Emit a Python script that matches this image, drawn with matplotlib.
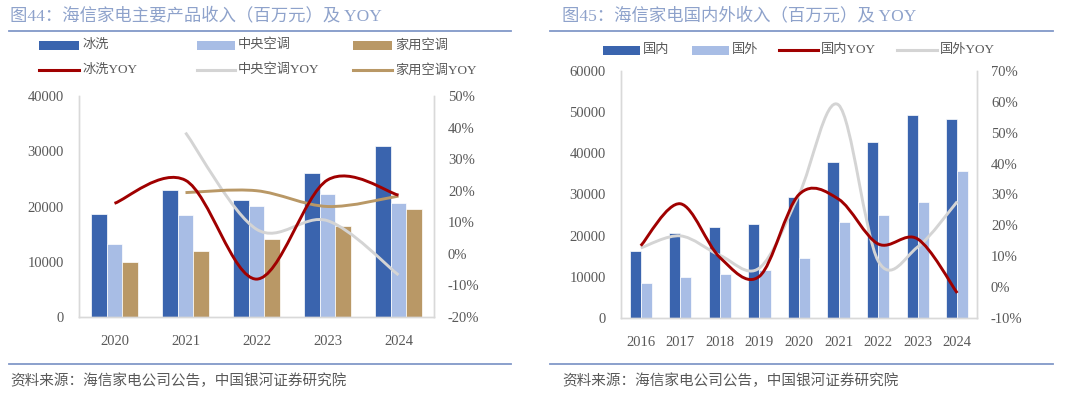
import matplotlib
matplotlib.use("Agg")
import matplotlib.pyplot as plt
from matplotlib.path import Path
from matplotlib.patches import PathPatch, Rectangle
from matplotlib.lines import Line2D
from matplotlib.ticker import FuncFormatter, MultipleLocator
import numpy as np

plt.rcParams['font.family'] = ['Liberation Serif', 'Noto Sans CJK SC']

# ── Data — 图44 ───────────────────────────────────────────────────────────────
years_l = ['2020', '2021', '2022', '2023', '2024']
bingxi = [18600, 23000, 21200, 26000, 30900]
zhongyang = [13300, 18400, 20100, 22200, 20700]
jiayong = [10000, 11900, 14200, 16500, 19500]
bingxi_yoy = [16.0, 23.3, -8.0, 23.4, 18.6]
zhongyang_yoy = [np.nan, 38.4, 7.8, 10.5, -6.7]
jiayong_yoy = [np.nan, 19.4, 20.0, 15.0, 18.3]

# ── Data — 图45 ───────────────────────────────────────────────────────────────
years_r = ['2016', '2017', '2018', '2019', '2020', '2021', '2022', '2023', '2024']
guonei = [16300, 20600, 22100, 22800, 29400, 37800, 42800, 49300, 48300]
guowai = [8500, 9900, 10800, 11600, 14600, 23200, 25100, 28100, 35800]
guonei_yoy = [13.4, 27.0, 9.6, 3.5, 30.0, 28.5, 14.0, 15.6, -1.9]
guowai_yoy = [12.7, 16.6, 10.3, 6.2, 30.0, 59.0, 8.5, 13.0, 27.7]

# Colors
DARK_BLUE = "#3A64AE"
LIGHT_BLUE = "#A8BDE5"
TAN = "#B99866"
RED = "#A00000"
GRAY = "#D4D4D4"
TITLE_C = "#8EA2CB"
RULE_C = "#8198C8"
TEXT_C = "#595959"
AXIS_C = "#D9D9D9"

W, H = 1080, 396


def fx(px):
    return px / W


def fy(py):
    return 1 - py / H


def smooth_path(xs, ys):
    """Excel-style smoothed line: cubic bezier through the points."""
    pts = np.column_stack([xs, ys]).astype(float)
    pts = pts[~np.isnan(pts[:, 1])]
    n = len(pts)
    verts, codes = [pts[0]], [Path.MOVETO]
    for i in range(n - 1):
        p0 = pts[max(i - 1, 0)]
        p1, p2 = pts[i], pts[i + 1]
        p3 = pts[min(i + 2, n - 1)]
        verts += [p1 + (p2 - p0) / 6, p2 - (p3 - p1) / 6, p2]
        codes += [Path.CURVE4] * 3
    return Path(verts, codes)


def style_axes(ax, ax2, ylim, y2lim, ystep, y2step, ncat, labels):
    ax.set_xlim(-0.5, ncat - 0.5)
    ax.set_ylim(*ylim)
    ax2.set_ylim(*y2lim)
    ax.set_xticks(np.arange(ncat))
    ax.set_xticklabels(labels)
    ax.yaxis.set_major_locator(MultipleLocator(ystep))
    ax2.yaxis.set_major_locator(MultipleLocator(y2step))
    ax.yaxis.set_major_formatter(FuncFormatter(lambda v, p: f"{v:.0f}"))
    ax2.yaxis.set_major_formatter(FuncFormatter(lambda v, p: f"{v:.0f}%"))
    ax.tick_params(axis='y', length=0, pad=11, labelsize=10.5, labelcolor=TEXT_C)
    ax.tick_params(axis='x', length=0, pad=13, labelsize=10.5, labelcolor=TEXT_C)
    ax2.tick_params(axis='y', length=0, pad=10, labelsize=10.5, labelcolor=TEXT_C)
    for a in (ax, ax2):
        a.spines['top'].set_visible(False)
        for s in ('left', 'right', 'bottom'):
            a.spines[s].set_color(AXIS_C)
            a.spines[s].set_linewidth(1.0)
        a.patch.set_visible(False)


def legend_item(fig, x0, x1, y, label, color, kind):
    if kind == 'bar':
        fig.add_artist(Rectangle((fx(x0), fy(y + 4.5)), fx(x1 - x0), 9 / H,
                                 transform=fig.transFigure, color=color, lw=0))
    else:
        fig.add_artist(Line2D([fx(x0), fx(x1)], [fy(y), fy(y)],
                              transform=fig.transFigure, color=color, lw=2.2))
    fig.text(fx(x1 + 3), fy(y), label, ha='left', va='center',
             fontsize=9.5, color=TEXT_C)


def frame(fig, x0, x1, xt, title):
    fig.text(fx(xt), fy(16), title, ha='left', va='center',
             fontsize=12.5, color=TITLE_C)
    for yy in (31, 363.5):
        fig.add_artist(Line2D([fx(x0), fx(x1)], [fy(yy), fy(yy)],
                              transform=fig.transFigure, color=RULE_C, lw=1.3))
    fig.text(fx(xt), fy(381), "资料来源：海信家电公司公告，中国银河证券研究院",
             ha='left', va='center', fontsize=10.5, color=TEXT_C, style='italic')


fig = plt.figure(figsize=(W / 100, H / 100), dpi=100)
fig.patch.set_facecolor("white")

# ── 图44 ──────────────────────────────────────────────────────────────────────
axL = fig.add_axes([fx(79), fy(317), fx(434 - 79), (317 - 96) / H])
axL2 = axL.twinx()
xl = np.arange(len(years_l))
bw = 0.22
axL.bar(xl - bw, bingxi, bw, color=DARK_BLUE, edgecolor='white', linewidth=0.5, zorder=2)
axL.bar(xl, zhongyang, bw, color=LIGHT_BLUE, edgecolor='white', linewidth=0.5, zorder=2)
axL.bar(xl + bw, jiayong, bw, color=TAN, edgecolor='white', linewidth=0.5, zorder=2)
for vals, col in ((zhongyang_yoy, GRAY), (jiayong_yoy, TAN), (bingxi_yoy, RED)):
    axL2.add_patch(PathPatch(smooth_path(xl, vals), fill=False, edgecolor=col,
                             lw=2.1, capstyle='butt', zorder=3))
style_axes(axL, axL2, (0, 40000), (-20, 50), 10000, 10, len(years_l), years_l)

frame(fig, 9, 511, 10, "图44：海信家电主要产品收入（百万元）及 YOY")
legend_item(fig, 39, 79, 45, "冰洗", DARK_BLUE, 'bar')
legend_item(fig, 197, 235, 45, "中央空调", LIGHT_BLUE, 'bar')
legend_item(fig, 353, 392, 45, "家用空调", TAN, 'bar')
legend_item(fig, 39, 79, 70, "冰洗YOY", RED, 'line')
legend_item(fig, 197, 235, 70, "中央空调YOY", GRAY, 'line')
legend_item(fig, 353, 392, 70, "家用空调YOY", TAN, 'line')

# ── 图45 ──────────────────────────────────────────────────────────────────────
axR = fig.add_axes([fx(621), fy(318), fx(977 - 621), (318 - 71) / H])
axR2 = axR.twinx()
xr = np.arange(len(years_r))
bw2 = 0.28
axR.bar(xr - bw2 / 2, guonei, bw2, color=DARK_BLUE, edgecolor='white', linewidth=0.5, zorder=2)
axR.bar(xr + bw2 / 2, guowai, bw2, color=LIGHT_BLUE, edgecolor='white', linewidth=0.5, zorder=2)
for vals, col in ((guowai_yoy, GRAY), (guonei_yoy, RED)):
    axR2.add_patch(PathPatch(smooth_path(xr, vals), fill=False, edgecolor=col,
                             lw=2.1, capstyle='butt', zorder=3))
style_axes(axR, axR2, (0, 60000), (-10, 70), 10000, 10, len(years_r), years_r)

frame(fig, 550, 1053, 562, "图45：海信家电国内外收入（百万元）及 YOY")
legend_item(fig, 603, 640, 50, "国内", DARK_BLUE, 'bar')
legend_item(fig, 692, 729, 50, "国外", LIGHT_BLUE, 'bar')
legend_item(fig, 779, 818, 50, "国内YOY", RED, 'line')
legend_item(fig, 897, 937, 50, "国外YOY", GRAY, 'line')

fig.savefig("out.png", dpi=100, facecolor=fig.get_facecolor())
